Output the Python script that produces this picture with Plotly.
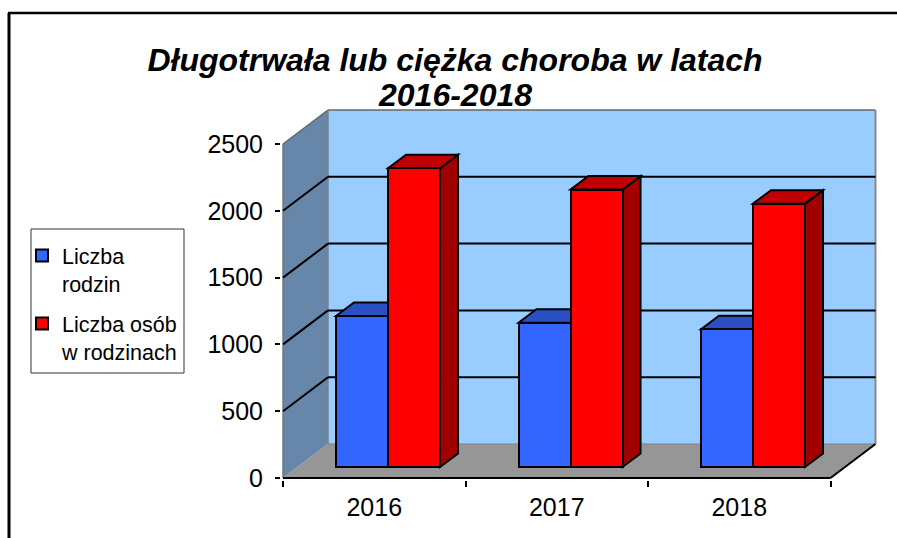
import plotly.graph_objects as go

years = ["2016", "2017", "2018"]
liczba_rodzin = [1130, 1080, 1031]
liczba_osob = [2236, 2077, 1971]
y_ticks = [0, 500, 1000, 1500, 2000, 2500]
title_line1 = "Długotrwała lub ciężka choroba w latach"
title_line2 = "2016-2018"
name_rodziny = "Liczba<br>rodzin"
name_osoby = "Liczba osób<br>w rodzinach"

W, H = 897, 538
FONT = "Liberation Sans, Arial, sans-serif"
PX_X = 182.5      # px per category
PX_Y = 0.1336     # px per value unit
X0, Y0 = 283, 478  # px location of the data origin
L, R, T, B = 281, 878, 108, 480
DX, DY = 45 / PX_X, 34 / PX_Y          # chart depth
BDX, BDY = 18 / PX_X, 13.5 / PX_Y      # bar depth
BASE = 11 / PX_Y
BAR_W = 0.285
OFF_BLUE, OFF_RED = -0.2096, 0.0754
TOP = y_ticks[-1]
N = len(years)
centers = [i + 0.5 for i in range(N)]


def px(xp):
    return (xp - L) / (R - L)


def py(yp):
    return (B - yp) / (B - T)


def poly(pts, fill, line="rgba(0,0,0,0)", width=0):
    path = "M " + " L ".join(f"{x:.4f},{y:.2f}" for x, y in pts) + " Z"
    return dict(type="path", path=path, xref="x", yref="y", layer="below",
                fillcolor=fill, line=dict(color=line, width=width))


def seg(p, q, color="black", width=2):
    return dict(type="line", xref="x", yref="y", layer="below",
                x0=p[0], y0=p[1], x1=q[0], y1=q[1], line=dict(color=color, width=width))


shapes = [
    poly([(0, 0), (DX, DY), (DX, TOP + DY), (0, TOP)], "#6687AA"),
    poly([(DX, DY), (N + DX, DY), (N + DX, TOP + DY), (DX, TOP + DY)], "#99CCFF"),
    poly([(0, 0), (N, 0), (N + DX, DY), (DX, DY)], "#969696"),
    seg((0, TOP), (DX, TOP + DY), "#666666", 1.5),
    seg((DX, TOP + DY), (N + DX, TOP + DY), "#666666", 1.5),
    seg((N + DX, DY), (N + DX, TOP + DY), "#8A8A8A", 2),
    seg((DX, DY), (DX, TOP + DY), "#808080", 1.5),
    seg((DX, DY), (N + DX, DY), "#808080", 1),
    seg((0, 0), (0, TOP), "#777777", 1.5),
]
for v in y_ticks[1:-1]:
    shapes.append(seg((0, v), (DX, v + DY)))
    shapes.append(seg((DX, v + DY), (N + DX, v + DY)))
shapes.append(seg((0, 0), (N, 0)))
shapes.append(seg((N, 0), (N + DX, DY)))

for c, v in zip(centers, liczba_rodzin):
    x0 = c + OFF_BLUE
    t = BASE + v
    shapes.append(poly([(x0, t), (x0 + BDX, t + BDY), (x0 + BAR_W + BDX, t + BDY), (x0 + BAR_W, t)],
                       "#2A50C4", "black", 2))
for c, v in zip(centers, liczba_osob):
    x0 = c + OFF_RED
    x1 = x0 + BAR_W
    t = BASE + v
    shapes.append(poly([(x1, BASE), (x1 + BDX, BASE + BDY), (x1 + BDX, t + BDY), (x1, t)],
                       "#A00000", "black", 2))
    shapes.append(poly([(x0, t), (x0 + BDX, t + BDY), (x1 + BDX, t + BDY), (x1, t)],
                       "#C00000", "black", 2))

# frame of the page and legend box
shapes += [
    dict(type="line", xref="paper", yref="paper", x0=px(9), x1=px(9), y0=py(13), y1=py(538),
         line=dict(color="black", width=3)),
    dict(type="line", xref="paper", yref="paper", x0=px(8), x1=px(897), y0=py(13), y1=py(13),
         line=dict(color="black", width=2.5)),
    dict(type="rect", xref="paper", yref="paper", x0=px(31), x1=px(184), y0=py(373), y1=py(229),
         line=dict(color="#333333", width=1), fillcolor="white"),
]

fig = go.Figure()
fig.add_trace(go.Bar(name=name_rodziny, x=centers, y=liczba_rodzin, base=BASE, width=BAR_W, offset=OFF_BLUE,
                     marker=dict(color="#3366FF", line=dict(color="black", width=2)),
                     legendgroup="a"))
fig.add_trace(go.Bar(name=name_osoby, x=centers, y=liczba_osob, base=BASE, width=BAR_W, offset=OFF_RED,
                     marker=dict(color="#FF0000", line=dict(color="black", width=2)),
                     legendgroup="b"))

title_font = dict(size=32, family=FONT, color="black", weight="bold", style="italic")
fig.update_layout(
    width=W, height=H, autosize=False,
    margin=dict(l=L, r=W - R, t=T, b=H - B, pad=0),
    paper_bgcolor="white", plot_bgcolor="rgba(0,0,0,0)",
    barmode="overlay", bargap=0,
    font=dict(family=FONT, color="black"),
    shapes=shapes,
    showlegend=True,
    legend=dict(x=px(22), y=py(235), xanchor="left", yanchor="top", valign="top",
                bgcolor="rgba(0,0,0,0)", borderwidth=0,
                font=dict(size=21.5, family=FONT, color="black"),
                tracegroupgap=9, traceorder="grouped", itemclick=False, itemdoubleclick=False),
    title=dict(text=title_line1, x=(455 - L) / (R - L), xref="paper", xanchor="center",
               y=1 - 49 / H, yref="container", yanchor="top", font=title_font),
    annotations=[dict(text=title_line2, x=px(455), y=py(95), xref="paper", yref="paper",
                      xanchor="center", yanchor="middle", showarrow=False, font=title_font)],
    xaxis=dict(range=[(L - X0) / PX_X, (R - X0) / PX_X], tickmode="array", tickvals=centers, ticktext=years,
               ticks="", showgrid=False, zeroline=False, showline=False, ticklabelstandoff=10,
               tickfont=dict(size=25, family=FONT, color="black"),
               minor=dict(tickmode="array", tickvals=list(range(N + 1)), ticks="outside", ticklen=6,
                          tickwidth=1.5, tickcolor="black", showgrid=False)),
    yaxis=dict(range=[(Y0 - B) / PX_Y, (Y0 - T) / PX_Y], tickmode="array", tickvals=y_ticks,
               ticktext=[str(v) for v in y_ticks], ticks="outside", ticklen=5, tickwidth=1.5, tickcolor="black",
               showgrid=False, zeroline=False, showline=False, ticklabelstandoff=7,
               tickfont=dict(size=25, family=FONT, color="black")),
)

fig.write_html("out.html", post_script="document.body.style.margin='0';",
               config=dict(displayModeBar=False))
